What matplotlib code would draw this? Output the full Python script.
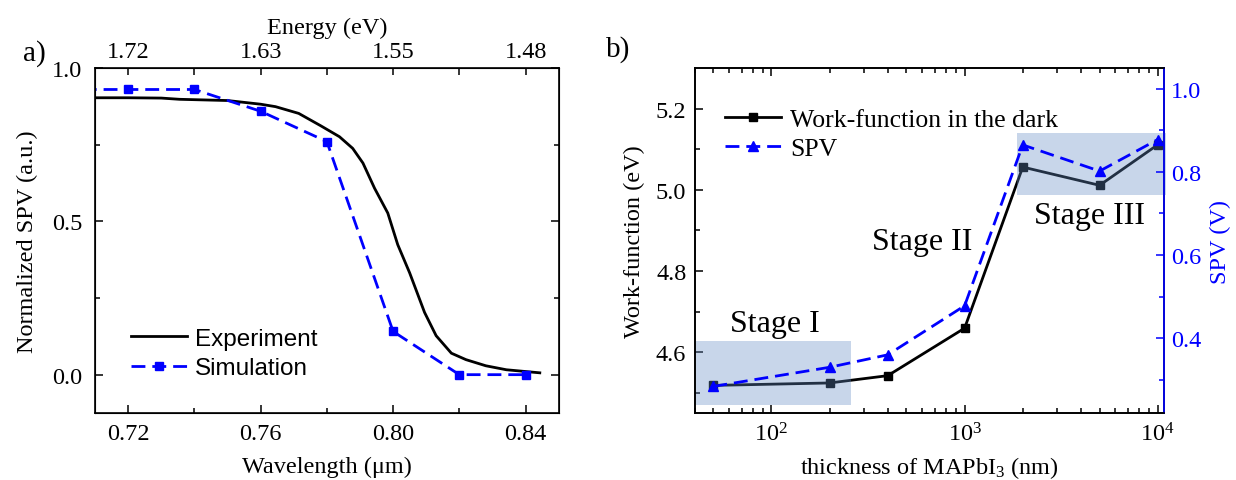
import numpy as np
import matplotlib
matplotlib.use("Agg")
import matplotlib.pyplot as plt
from matplotlib.ticker import FixedLocator, NullFormatter, LogLocator, LogFormatterSciNotation, MultipleLocator
from matplotlib.lines import Line2D
from matplotlib.patches import Rectangle

plt.rcParams["font.family"] = ["Liberation Serif", "DejaVu Serif"]
plt.rcParams["mathtext.fontset"] = "custom"
plt.rcParams["mathtext.rm"] = "Liberation Serif"
plt.rcParams["mathtext.it"] = "Liberation Serif:italic"
plt.rcParams["mathtext.bf"] = "Liberation Serif:bold"

# ---- panel a: spectral response ----
exp_wavelength = [0.710, 0.720, 0.730, 0.7355, 0.750, 0.760, 0.7645, 0.7715, 0.7781,
                  0.7838, 0.7878, 0.7909, 0.7944, 0.7984, 0.8014, 0.8050, 0.8095,
                  0.8130, 0.8176, 0.8220, 0.8280, 0.8342, 0.8443]
exp_spv = [0.903, 0.903, 0.902, 0.898, 0.894, 0.882, 0.874, 0.852, 0.812,
           0.776, 0.738, 0.690, 0.608, 0.527, 0.424, 0.332, 0.203,
           0.127, 0.070, 0.049, 0.029, 0.016, 0.006]

sim_wavelength = [0.70, 0.72, 0.74, 0.76, 0.78, 0.80, 0.82, 0.84]
sim_spv = [0.930, 0.930, 0.930, 0.859, 0.760, 0.141, 0.0, 0.0]

wl_ticks = [0.72, 0.76, 0.80, 0.84]
wl_labels = ["0.72", "0.76", "0.80", "0.84"]
energy_labels = ["1.72", "1.63", "1.55", "1.48"]

# ---- panel b: thickness series ----
thickness_nm = [50, 200, 400, 1000, 2000, 5000, 10000]
work_function = [4.518, 4.524, 4.542, 4.659, 5.056, 5.011, 5.111]
spv_volts = [0.284, 0.330, 0.360, 0.478, 0.865, 0.802, 0.878]

stage_names = ["Stage I", "Stage II", "Stage III"]

BLUE = "#0000ff"
SHADE = "#628ac3"
LW = 2.0
DASH = (0, (5, 2.5))

fig = plt.figure(figsize=(12.36, 4.81), dpi=100)

tick_fs = 17.5
label_fs = 17.5

# ================= panel a =================
axa = fig.add_axes([0.0769, 0.1393, 0.452 - 0.0769, 0.8565 - 0.1393])
axa.plot(exp_wavelength, exp_spv, color="black", lw=LW, label="Experiment")
axa.plot(sim_wavelength, sim_spv, color=BLUE, lw=LW, ls=DASH,
         marker="s", ms=5.5, label="Simulation")
axa.set_xlim(0.71, 0.85)
axa.set_ylim(-0.125, 1.0)
axa.xaxis.set_major_locator(FixedLocator(wl_ticks))
axa.set_xticklabels(wl_labels)
axa.xaxis.set_minor_locator(MultipleLocator(0.02))
axa.yaxis.set_major_locator(FixedLocator([0.0, 0.5, 1.0]))
axa.yaxis.set_minor_locator(FixedLocator([0.25, 0.75]))
axa.set_yticklabels(["0.0", "0.5", "1.0"])
axa.tick_params(which="both", direction="in", right=True, labelsize=tick_fs, width=1.1)
axa.tick_params(which="major", length=6, pad=7)
axa.tick_params(which="minor", length=3.5)
axa.tick_params(axis="y", which="major", pad=9)
axa.set_xlabel("Wavelength (\u03bcm)", fontsize=label_fs, labelpad=9)
axa.set_ylabel("Normalized SPV (a.u.)", fontsize=label_fs, labelpad=10)
for s in axa.spines.values():
    s.set_linewidth(1.2)

top = axa.twiny()
top.set_xlim(axa.get_xlim())
top.xaxis.set_major_locator(FixedLocator(wl_ticks))
top.set_xticklabels(energy_labels)
top.xaxis.set_minor_locator(MultipleLocator(0.02))
top.tick_params(which="both", direction="in", labelsize=tick_fs, width=1.1, length=5, pad=4)
top.set_xlabel("Energy (eV)", fontsize=label_fs, labelpad=6)

axa.legend(loc="lower left", bbox_to_anchor=(0.03, 0.035), frameon=False,
           prop={"family": "Liberation Sans", "size": 17.5},
           handlelength=2.3, handletextpad=0.35, labelspacing=0.3)

fig.text(0.028, 0.888, "a)", fontsize=21, ha="center", va="center")

# ================= panel b =================
axb = fig.add_axes([0.562, 0.1393, 0.9419 - 0.562, 0.8565 - 0.1393])
axb.set_xscale("log")
axb.plot(thickness_nm, work_function, color="black", lw=LW, marker="s", ms=5.5,
         zorder=2, label="Work-function in the dark")
axb.set_xlim(40, 1.08e4)
axb.set_ylim(4.45, 5.30)
axb.yaxis.set_major_locator(FixedLocator([4.6, 4.8, 5.0, 5.2]))
axb.yaxis.set_minor_locator(FixedLocator([4.5, 4.7, 4.9, 5.1]))
axb.set_yticklabels(["4.6", "4.8", "5.0", "5.2"])
axb.xaxis.set_major_locator(LogLocator(base=10, numticks=10))
axb.xaxis.set_major_formatter(LogFormatterSciNotation())
axb.xaxis.set_minor_locator(LogLocator(base=10, subs=np.arange(2, 10), numticks=10))
axb.xaxis.set_minor_formatter(NullFormatter())
axb.tick_params(which="both", direction="in", top=True, labelsize=tick_fs, width=1.1)
axb.tick_params(which="major", length=6, pad=7)
axb.tick_params(which="minor", length=3.5)
axb.tick_params(axis="y", right=False, which="both")
axb.tick_params(axis="y", which="major", pad=6)
axb.set_xlabel(r"thickness of MAPbI$_\mathregular{3}$ (nm)", fontsize=label_fs, labelpad=6)
axb.set_ylabel("Work-function (eV)", fontsize=label_fs, labelpad=8)
for s in axb.spines.values():
    s.set_linewidth(1.2)

# shaded stage regions (drawn above the work-function line, below the SPV line)
axb.add_patch(Rectangle((40.6, 4.470), 258 - 40.6, 4.627 - 4.470,
                        facecolor=SHADE, alpha=0.35, edgecolor="none", zorder=3))
axb.add_patch(Rectangle((1857, 4.986), 1.1e4 - 1857, 5.141 - 4.986,
                        facecolor=SHADE, alpha=0.35, edgecolor="none", zorder=3,
                        clip_on=False))

stage_fs = 23
axb.text(104, 4.670, stage_names[0], fontsize=stage_fs, ha="center", va="center", zorder=5)
axb.text(600, 4.872, stage_names[1], fontsize=stage_fs, ha="center", va="center", zorder=5)
axb.text(4450, 4.936, stage_names[2], fontsize=stage_fs, ha="center", va="center", zorder=5)

ax2 = axb.twinx()
ax2.plot(thickness_nm, spv_volts, color=BLUE, lw=LW, ls=DASH,
         marker="^", ms=7, label="SPV")
ax2.set_ylim(0.22, 1.05)
ax2.yaxis.set_major_locator(FixedLocator([0.4, 0.6, 0.8, 1.0]))
ax2.yaxis.set_minor_locator(FixedLocator([0.3, 0.5, 0.7, 0.9]))
ax2.set_yticklabels(["0.4", "0.6", "0.8", "1.0"])
ax2.tick_params(which="both", direction="in", colors=BLUE, labelsize=tick_fs, width=1.1)
ax2.tick_params(which="major", length=6, pad=5)
ax2.tick_params(which="minor", length=3.5)
ax2.set_ylabel("SPV (V)", fontsize=label_fs, color=BLUE, labelpad=6)
for s in ax2.spines.values():
    s.set_linewidth(1.2)
ax2.spines["right"].set_color(BLUE)

handles = [Line2D([], [], color="black", lw=LW, marker="s", ms=5.5),
           Line2D([], [], color=BLUE, lw=LW, ls=DASH, marker="^", ms=7)]
ax2.legend(handles, ["Work-function in the dark", "SPV"], loc="upper left",
           bbox_to_anchor=(0.015, 0.95), frameon=False, fontsize=18.5,
           handlelength=2.2, handletextpad=0.35, labelspacing=0.2)

fig.text(0.5, 0.898, "b)", fontsize=21, ha="center", va="center")

fig.savefig("out.png", dpi=100)
